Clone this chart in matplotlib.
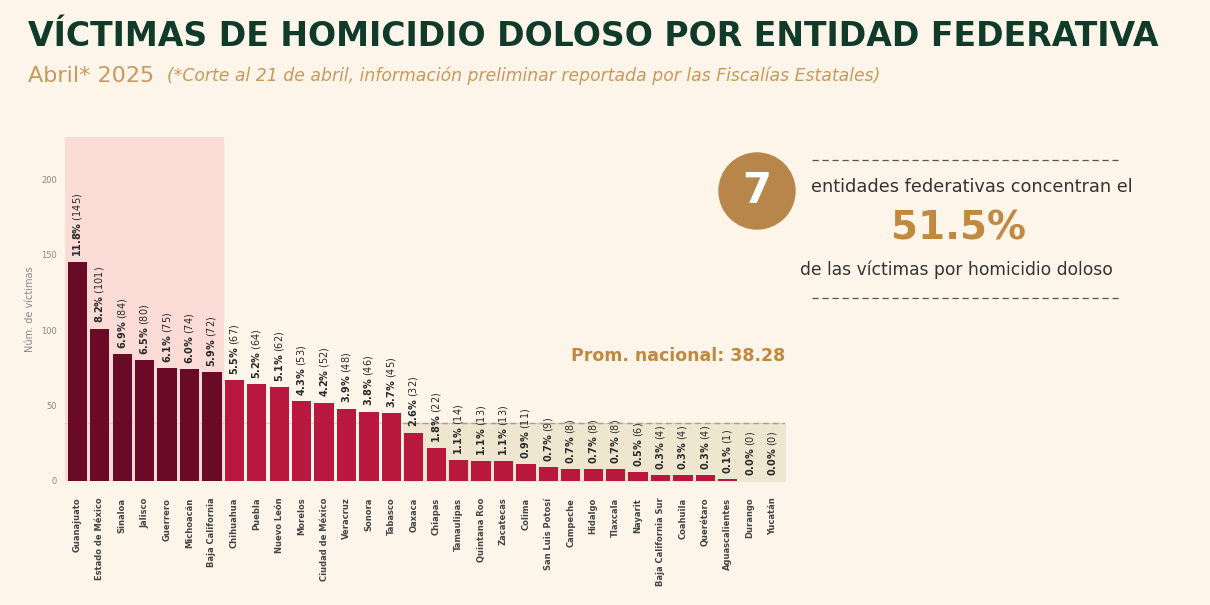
import matplotlib.pyplot as plt
from matplotlib.patches import Circle

estados = ['Guanajuato', 'Estado de México', 'Sinaloa', 'Jalisco', 'Guerrero', 'Michoacán',
           'Baja California', 'Chihuahua', 'Puebla', 'Nuevo León', 'Morelos', 'Ciudad de México',
           'Veracruz', 'Sonora', 'Tabasco', 'Oaxaca', 'Chiapas', 'Tamaulipas', 'Quintana Roo',
           'Zacatecas', 'Colima', 'San Luis Potosí', 'Campeche', 'Hidalgo', 'Tlaxcala', 'Nayarit',
           'Baja California Sur', 'Coahuila', 'Querétaro', 'Aguascalientes', 'Durango', 'Yucatán']
victimas = [145, 101, 84, 80, 75, 74, 72, 67, 64, 62, 53, 52, 48, 46, 45, 32, 22, 14, 13, 13,
            11, 9, 8, 8, 8, 6, 4, 4, 4, 1, 0, 0]
porcentajes = [11.8, 8.2, 6.9, 6.5, 6.1, 6.0, 5.9, 5.5, 5.2, 5.1, 4.3, 4.2, 3.9, 3.8, 3.7, 2.6,
               1.8, 1.1, 1.1, 1.1, 0.9, 0.7, 0.7, 0.7, 0.7, 0.5, 0.3, 0.3, 0.3, 0.1, 0.0, 0.0]
promedio = 38.28
top_n = 7

bg = '#fdf5ea'
oscuro = '#6b0a26'
claro = '#b8173e'
dorado = '#c0893f'

fig = plt.figure(figsize=(12.1, 6.05), dpi=100, facecolor=bg)
ax = fig.add_axes([65 / 1210, 1 - 481 / 605, 720 / 1210, 344 / 605], facecolor=bg)

x = list(range(len(estados)))
colores = [oscuro if i < top_n else claro for i in x]
ax.bar(x, victimas, width=0.86, color=colores, zorder=3)

ax.set_xlim(-0.55, len(estados) - 0.45)
ax.set_ylim(0, 228)

# zona de las 7 entidades
ax.axvspan(-0.55, top_n - 0.5, color='#fadbd6', zorder=0)

# franja bajo el promedio
ax.fill_between([14.5, len(estados) - 0.45], 0, promedio, color='#efe6d0', zorder=1)
ax.axhline(promedio, color='#d9cdb8', lw=0.8, zorder=1)
ax.plot([14.5, len(estados) - 0.45], [promedio, promedio], color='#a89f8c', lw=1,
        ls=(0, (4, 3)), zorder=2)
ax.text(26.8, 83, f'Prom. nacional: {promedio:.2f}', color=dorado, fontsize=12.5,
        fontweight='bold', ha='center', va='center')

for i, (v, p) in enumerate(zip(victimas, porcentajes)):
    etiqueta = r'$\mathbf{' + f'{p:.1f}' + r'\%}$' + f' ({v})'
    ax.text(i, v + 3.5, etiqueta, rotation=90, ha='center', va='bottom', fontsize=7,
            color='#2a2a2a', zorder=4)

ax.set_xticks(x)
ax.set_xticklabels(estados, rotation=90, fontsize=6, fontweight='bold', color='#444444')
ax.set_yticks([0, 50, 100, 150, 200])
ax.tick_params(axis='y', labelsize=6, colors='#888888', length=0, pad=6)
ax.tick_params(axis='x', length=0, pad=12)
ax.set_ylabel('Núm. de víctimas', fontsize=7, color='#888888', labelpad=4)
for s in ax.spines.values():
    s.set_visible(False)

# títulos
fig.text(28 / 1210, 1 - 36 / 605, 'VÍCTIMAS DE HOMICIDIO DOLOSO POR ENTIDAD FEDERATIVA',
         fontsize=23.9, fontweight='heavy', color='#103a29', va='center', ha='left')
fig.text(28 / 1210, 1 - 76 / 605, 'Abril* 2025', fontsize=16, color='#c9995c',
         va='center', ha='left')
fig.text(167 / 1210, 1 - 76 / 605,
         '(*Corte al 21 de abril, información preliminar reportada por las Fiscalías Estatales)',
         fontsize=12.4, style='italic', color='#c9995c', va='center', ha='left')

# recuadro de la derecha
circ = Circle((757 / 100, (605 - 191) / 100), 0.38, transform=fig.dpi_scale_trans,
              color='#b8864a', zorder=5)
fig.patches.append(circ)
fig.text(757 / 1210, 1 - 191 / 605, str(top_n), fontsize=30, fontweight='bold', color='white',
         ha='center', va='center', zorder=6)

fig.lines.append(plt.Line2D([812 / 1210, 1118 / 1210], [1 - 160 / 605, 1 - 160 / 605],
                            transform=fig.transFigure, color='#555555', lw=0.9, ls=(0, (5, 3))))
fig.lines.append(plt.Line2D([812 / 1210, 1118 / 1210], [1 - 298 / 605, 1 - 298 / 605],
                            transform=fig.transFigure, color='#555555', lw=0.9, ls=(0, (5, 3))))
fig.text(972 / 1210, 1 - 187 / 605, 'entidades federativas concentran el', fontsize=12.8,
         color='#333333', ha='center', va='center')
fig.text(958 / 1210, 1 - 229 / 605, '51.5%', fontsize=28, fontweight='bold', color=dorado,
         ha='center', va='center')
fig.text(956 / 1210, 1 - 270 / 605, 'de las víctimas por homicidio doloso', fontsize=12.3,
         color='#333333', ha='center', va='center')

plt.savefig('out.png', dpi=100, facecolor=bg)
